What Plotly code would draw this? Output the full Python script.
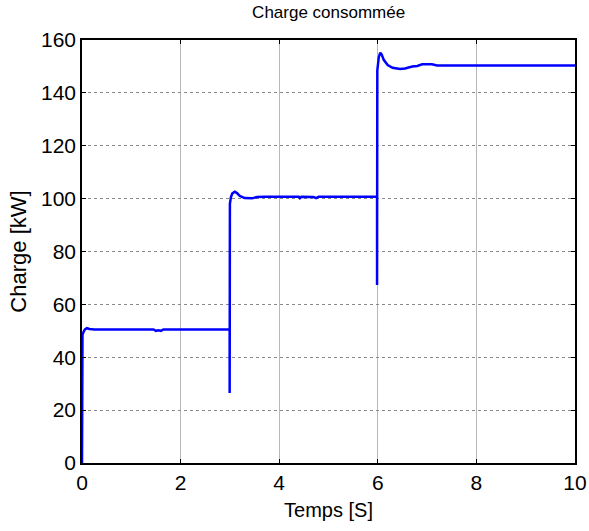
import plotly.graph_objects as go

# Time (s) and consumed load (kW)
t = [0.0, 0.0, 0.01, 0.03, 0.06, 0.1, 0.15, 0.25, 1.0, 1.45, 1.5, 1.55, 1.6, 1.65, 2.5, 2.995,
     2.995, 2.998, 3.0, 3.02, 3.05, 3.1, 3.15, 3.2, 3.3, 3.45, 3.55, 3.7, 4.4, 4.42, 4.45, 4.7,
     4.75, 4.8, 5.5, 5.985,
     5.985, 5.988, 5.99, 6.02, 6.05, 6.08, 6.12, 6.2, 6.3, 6.45, 6.55, 6.7, 6.8, 6.9, 7.1, 7.2,
     8.0, 9.0, 10.0]
p = [0.0, 20.0, 48.5, 49.5, 50.5, 51.0, 50.7, 50.5, 50.5, 50.5, 50.0, 50.2, 50.0, 50.5, 50.5, 50.5,
     26.5, 97.0, 98.0, 100.5, 102.0, 102.6, 102.0, 101.0, 100.2, 100.1, 100.6, 100.7, 100.7, 100.2, 100.7, 100.6,
     100.2, 100.7, 100.7, 100.7,
     67.3, 147.0, 148.5, 153.5, 155.2, 154.5, 152.5, 150.5, 149.5, 149.0, 149.2, 150.0, 150.2, 150.8, 150.8, 150.4,
     150.4, 150.4, 150.4]

x_ticks = [0, 2, 4, 6, 8, 10]
y_ticks = [0, 20, 40, 60, 80, 100, 120, 140, 160]

fig = go.Figure()
fig.add_trace(go.Scatter(x=t, y=p, mode="lines",
                         line=dict(color="#0000FF", width=2.5), showlegend=False))

font_family = "Liberation Sans, Arial, sans-serif"
fig.update_layout(
    width=589, height=531,
    margin=dict(l=82, r=14, t=40, b=68, autoexpand=False),
    paper_bgcolor="white", plot_bgcolor="white",
    font=dict(family=font_family, color="black"),
    title=dict(text="Charge consommée", x=0.558, xanchor="center", y=0.977, yanchor="middle",
               font=dict(size=17, family=font_family, color="black")),
    xaxis=dict(range=[0, 10], tickvals=x_ticks, ticktext=[str(v) for v in x_ticks],
               showgrid=True, gridcolor="#b8b8b8", gridwidth=1, automargin=False,
               showline=True, linecolor="black", linewidth=1.5, mirror="ticks",
               ticks="inside", ticklen=4, tickcolor="black",
               tickfont=dict(size=21), zeroline=False,
               title=dict(text="Temps [S]", font=dict(size=20), standoff=10)),
    yaxis=dict(range=[0, 160], tickvals=y_ticks, ticktext=[str(v) for v in y_ticks],
               showgrid=True, gridcolor="#8a8a8a", gridwidth=1, griddash="dot", automargin=False,
               showline=True, linecolor="black", linewidth=1.5, mirror="ticks",
               ticks="inside", ticklen=4, tickcolor="black",
               tickfont=dict(size=21), zeroline=False,
               title=dict(text="Charge [kW]", font=dict(size=22), standoff=8)),
)

fig.write_html("out.html")
